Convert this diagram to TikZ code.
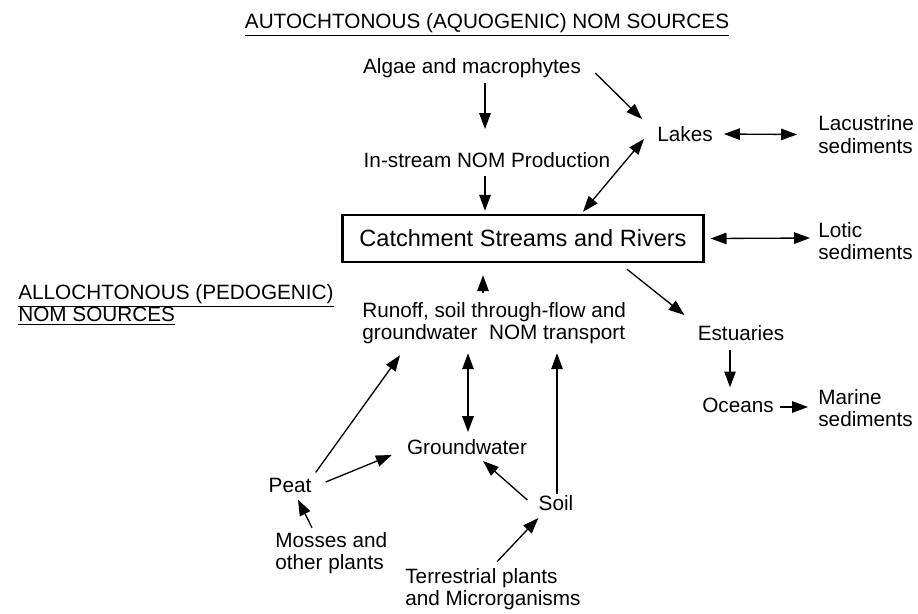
\documentclass[tikz,border=0pt]{standalone}
\usepackage{fontspec}
\setmainfont{Liberation Sans}
\usetikzlibrary{arrows.meta}

\begin{document}
\begin{tikzpicture}[x=0.02cm,y=-0.02cm,>={Triangle[length=9pt,width=6.5pt]},
    every node/.style={inner sep=0pt,font=\fontsize{11.8}{12.8}\selectfont},
    txt/.style={align=left,anchor=west},
    seta/.style={->,line width=0.75pt},
    dupla/.style={<->,line width=0.75pt}]
    \useasboundingbox (0,0) rectangle (918,613);
	% fontes autoctones
    \node (auto) at (487,25) {\underline{AUTOCHTONOUS (AQUOGENIC) NOM SOURCES}};
    \node (algae) at (472,68) {Algae and macrophytes};
    \node (instream) at (487,160) {In-stream NOM Production};
    \node (lakes) at (685,134) {Lakes};
    \node[txt] (lacus) at (818,134.5) {Lacustrine\\sediments};
	% caixa central
    \node[draw,line width=1.4pt,minimum width=7.22cm,minimum height=0.94cm,
        font=\fontsize{13.4}{15}\selectfont] (rivers) at (523,238.5) {Catchment Streams and Rivers};
    \node[txt] (lotic) at (818,241) {Lotic\\sediments};
    \node (estuar) at (741,333) {Estuaries};
    \node (oceans) at (738,405) {Oceans};
    \node[txt] (marine) at (818,408) {Marine\\sediments};
	% fontes alóctones
    \node[txt] (allo) at (18,305) {\underline{ALLOCHTONOUS (PEDOGENIC)}\\\underline{NOM SOURCES}};
    \node[txt] (runoff) at (362,323) {Runoff, soil through-flow and\\groundwater~ NOM transport};
    \node (ground) at (467,447) {Groundwater};
    \node (peat) at (290,485) {Peat};
    \node (soil) at (556,503) {Soil};
    \node[txt] (mosses) at (275,553) {Mosses and\\other plants};
    \node[txt] (terr) at (405,589) {Terrestrial plants\\and Microrganisms};
	% setas
    \draw[seta] ([shift={(13,5)}]algae.south) -- ([shift={(-2,-23)}]instream.north);
    \draw[seta] ([shift={(-2,8)}]instream.south) -- ([shift={(-38,-3)}]rivers.north);
    \draw[seta] ([shift={(14,5)}]algae.east) -- ([shift={(-15,-7)}]lakes.north west);
    \draw[dupla] ([shift={(-13,-3)}]lakes.south west) -- ([shift={(60,-2)}]rivers.north);
    \draw[dupla] ([shift={(11,0)}]lakes.east) -- ([shift={(-21,0)}]lacus.west);
    \draw[dupla] ([shift={(6,0)}]rivers.east) -- ([shift={(-8,-3)}]lotic.west);
    \draw[seta] ([shift={(104,6)}]rivers.south) -- ([shift={(-13,-10)}]estuar.north west);
    \draw[seta] ([shift={(-11,9)}]estuar.south) -- ([shift={(-8,-10)}]oceans.north);
    \draw[seta] ([shift={(6,2)}]oceans.east) -- ([shift={(-10,-1)}]marine.west);
	% transporte ate os rios
    \draw[seta] ([shift={(121,-9)}]runoff.north west) -- ([shift={(-40,12)}]rivers.south);
    \draw[dupla] ([shift={(106,9)}]runoff.south west) -- ([shift={(1,-7)}]ground.north);
    \draw[seta] ([shift={(1,-1)}]soil.north) -- ([shift={(195,9)}]runoff.south west);
    \draw[seta] ([shift={(4,-5)}]peat.north east) -- ([shift={(38,11)}]runoff.south west);
    \draw[seta] ([shift={(14,-3)}]peat.east) -- ([shift={(-15,8)}]ground.west);
    \draw[seta] ([shift={(-11,5)}]soil.north west) -- ([shift={(16,6)}]ground.south);
    \draw[seta] ([shift={(92,-6)}]terr.north west) -- ([shift={(0,7)}]soil.south west);
    \draw[seta] ([shift={(37,-4)}]mosses.north west) -- ([shift={(8,7)}]peat.south);
\end{tikzpicture}
\end{document}
